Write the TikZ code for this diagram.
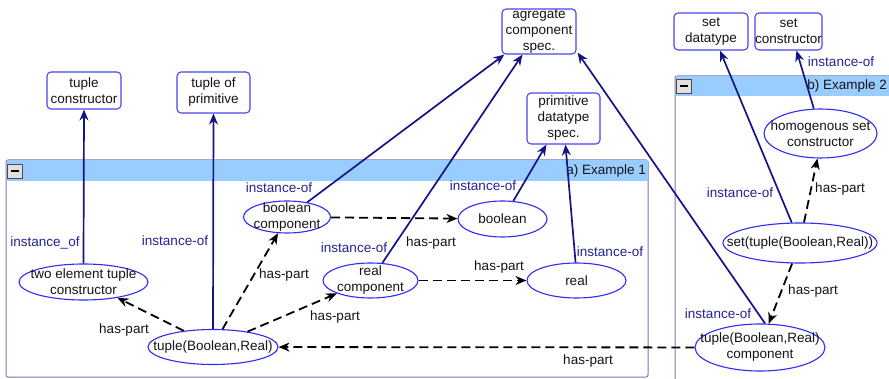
\documentclass[tikz,border=0pt]{standalone}
\usepackage{fontspec}
\setmainfont{Liberation Sans}
\usetikzlibrary{shapes.geometric,arrows.meta}
\definecolor{edgeblue}{RGB}{20,20,135}
\definecolor{lblblue}{RGB}{35,35,150}
\definecolor{ellblue}{RGB}{45,45,245}
\definecolor{boxblue}{RGB}{70,70,240}
\definecolor{hdr}{RGB}{153,204,255}
\definecolor{pborder}{RGB}{120,120,180}
\definecolor{txt}{RGB}{20,20,20}
\tikzset{
  ell/.style={ellipse, draw=ellblue, line width=1.1pt, fill=white, inner sep=0pt},
  tx/.style={font=\fontsize{13.5}{16}\selectfont, text=txt, align=center, inner sep=0pt},
  bx/.style={rectangle, rounded corners=4pt, draw=boxblue, line width=1.1pt, fill=white, inner sep=0pt, font=\fontsize{13.5}{16}\selectfont, text=txt, align=center},
  inst/.style={draw=edgeblue, line width=1.7pt, -{Stealth[length=11pt,width=9pt]}},
  haspart/.style={draw=black, line width=1.8pt, dash pattern=on 9pt off 5pt, -{Stealth[length=11pt,width=9pt]}},
  ilbl/.style={font=\fontsize{13.5}{16}\selectfont, text=lblblue, inner sep=0pt},
  hlbl/.style={font=\fontsize{13.5}{16}\selectfont, text=txt, inner sep=0pt},
  panel/.style={draw=pborder, line width=1pt, fill=white, rounded corners=2pt},
  minusbox/.style={draw=black!70, fill=black!12, line width=0.8pt, minimum width=15pt, minimum height=14pt, inner sep=0pt}
}
\begin{document}
\begin{tikzpicture}[x=1pt,y=-1pt]
\useasboundingbox (0,0) rectangle (889,379);
\clip (0,0) rectangle (889,379);
% panels
\draw[panel] (6,160) rectangle (648,377);
\fill[hdr] (6.5,160.5) rectangle (647.5,181);
\node[minusbox] (mina) at (15,171) {};
\draw[black, line width=1.6pt] ([xshift=-4pt]mina.center) -- ([xshift=4pt]mina.center);
\node[hlbl, anchor=east] (ta) at (646,171) {a) Example 1};
\draw[panel] (675,76) rectangle (910,400);
\fill[hdr] (675.5,76.5) rectangle (909,96);
\node[minusbox] (minb) at (684,86) {};
\draw[black, line width=1.6pt] ([xshift=-4pt]minb.center) -- ([xshift=4pt]minb.center);
\node[hlbl, anchor=east] (tb) at (887,86) {b) Example 2};
% boxes
\node[bx, minimum width=74pt, minimum height=37pt] (tc) at (84,90.5) {tuple\\constructor};
\node[bx, minimum width=73pt, minimum height=41pt] (tp) at (213.5,92.5) {tuple of\\primitive};
\node[bx, minimum width=74pt, minimum height=45pt] (agg) at (539,31.5) {agregate\\component\\spec.};
\node[bx, minimum width=73pt, minimum height=51pt] (prim) at (563.5,118.5) {primitive\\datatype\\spec.};
\node[bx, minimum width=74pt, minimum height=37pt] (sd) at (711,31.5) {set\\datatype};
\node[bx, minimum width=67pt, minimum height=37pt] (sc) at (788.5,31.5) {set\\constructor};
% ellipses
\node[ell, minimum width=129pt, minimum height=36pt] (two) at (83.5,282) {};
\node[tx] (twoT) at (two) {two element tuple\\constructor};
\node[ell, minimum width=130pt, minimum height=35pt] (tbr) at (213,347) {};
\node[tx] (tbrT) at (tbr) {tuple(Boolean,Real)};
\node[ell, minimum width=87pt, minimum height=32pt] (bc) at (287,217) {};
\node[tx] (bcT) at (bc) {boolean\\component};
\node[ell, minimum width=89pt, minimum height=36pt] (bool) at (502.5,219) {};
\node[tx] (boolT) at (bool) {boolean};
\node[ell, minimum width=95pt, minimum height=35pt] (rc) at (370.5,280.5) {};
\node[tx] (rcT) at (rc) {real\\component};
\node[ell, minimum width=99pt, minimum height=35pt] (real) at (576.5,280.5) {};
\node[tx] (realT) at (real) {real};
\node[ell, minimum width=113pt, minimum height=49pt] (hom) at (820.5,133.5) {};
\node[tx] (homT) at (hom) {homogenous set\\constructor};
\node[ell, minimum width=154pt, minimum height=40pt] (st) at (800,243) {};
\node[tx] (stT) at (st) {set(tuple(Boolean,Real))};
\node[ell, minimum width=130pt, minimum height=47pt] (tcomp) at (760,347.5) {};
\node[tx] (tcompT) at (tcomp) {tuple(Boolean,Real)\\component};
% instance-of edges
\draw[inst] (two.north) -- (tc.south);
\draw[inst] (tbr.north) -- (tp.south);
\draw[inst] (bc.36) -- ([xshift=3pt]agg.south west);
\draw[inst] (rc.56) -- ([xshift=21pt]agg.south west);
\draw[inst] (bool.59) -- ([xshift=20pt]prim.south west);
\draw[inst] (real.93) -- ([xshift=39pt]prim.south west);
\draw[inst] (tcomp.78) -- ([xshift=1pt,yshift=2pt]agg.south east);
\draw[inst] (st.112) -- ([xshift=9pt]sd.south);
\draw[inst] (hom.105) -- ([xshift=8pt]sc.south);
% has-part edges
\draw[haspart] (tbr.151) -- (two.-25);
\draw[haspart] (tbr.62) -- (bc.241);
\draw[haspart] (tbr.24) -- (rc.201);
\draw[haspart] (bc) -- (bool);
\draw[haspart] (rc) -- (real);
\draw[haspart] (tcomp) -- (tbr);
\draw[haspart] (st.79) -- (hom.263);
\draw[haspart] (st.249) -- (tcomp.70);
% labels
\node[ilbl] (l1) at (45,243) {instance\_of};
\node[ilbl] (l2) at (175,241) {instance-of};
\node[ilbl] (l3) at (279,188) {instance-of};
\node[ilbl] (l4) at (354,248) {instance-of};
\node[ilbl] (l5) at (483,186) {instance-of};
\node[ilbl] (l6) at (610,252) {instance-of};
\node[ilbl] (l7) at (718,314) {instance-of};
\node[ilbl] (l8) at (740,193) {instance-of};
\node[ilbl] (l9) at (841,62) {instance-of};
\node[hlbl] (h1) at (124,330) {has-part};
\node[hlbl] (h2) at (284,275) {has-part};
\node[hlbl] (h3) at (335,317) {has-part};
\node[hlbl] (h4) at (431,243) {has-part};
\node[hlbl] (h5) at (499,267) {has-part};
\node[hlbl] (h6) at (588,361) {has-part};
\node[hlbl] (h7) at (840,189) {has-part};
\node[hlbl] (h8) at (813,291) {has-part};
\end{tikzpicture}
\end{document}
